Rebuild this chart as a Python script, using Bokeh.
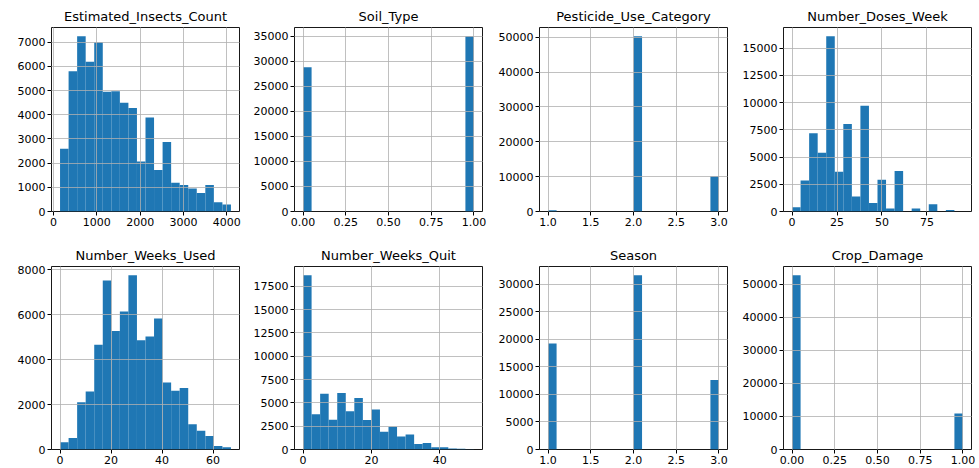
import numpy as np
from bokeh.plotting import figure
from bokeh.layouts import gridplot
from bokeh.models import Range1d, FixedTicker, GlobalInlineStyleSheet
from bokeh.embed import file_html
from bokeh.resources import INLINE

# ---------------- data (20-bin histograms) ----------------
titles = ["Estimated_Insects_Count", "Soil_Type", "Pesticide_Use_Category", "Number_Doses_Week",
          "Number_Weeks_Used", "Number_Weeks_Quit", "Season", "Crop_Damage"]

insects_range = [150, 4097]
insects_counts = [2600, 5800, 7250, 6200, 7000, 4950, 4980, 4500, 4280, 2070,
                  3890, 1720, 2880, 1190, 1100, 950, 770, 1100, 380, 290]

soil_range = [0, 1]
soil_counts = [28800, 0, 0, 0, 0, 0, 0, 0, 0, 0,
               0, 0, 0, 0, 0, 0, 0, 0, 0, 35000]

pest_range = [1, 3]
pest_counts = [380, 0, 0, 0, 0, 0, 0, 0, 0, 0,
               50300, 0, 0, 0, 0, 0, 0, 0, 0, 10100]

doses_range = [0, 95]
doses_counts = [400, 2850, 7180, 5400, 16100, 3650, 8040, 1380, 9720, 770,
                2910, 280, 3710, 0, 280, 0, 660, 0, 130, 10]

used_range = [0, 67]
used_counts = [325, 515, 2100, 2580, 4660, 7510, 5270, 6140, 7750, 4860,
               5030, 5830, 2980, 2610, 2730, 1120, 830, 605, 160, 100]

quit_range = [0, 50]
quit_counts = [18680, 3770, 5980, 3200, 6050, 4090, 5510, 3170, 4300, 1890,
               2450, 1390, 1600, 600, 710, 250, 250, 100, 70, 20]

season_range = [1, 3]
season_counts = [19250, 0, 0, 0, 0, 0, 0, 0, 0, 0,
                 31650, 0, 0, 0, 0, 0, 0, 0, 0, 12610]

crop_range = [0, 1]
crop_counts = [52700, 0, 0, 0, 0, 0, 0, 0, 0, 0,
               0, 0, 0, 0, 0, 0, 0, 0, 0, 10850]

# tick values / labels
insects_xticks = [0, 1000, 2000, 3000, 4000]
insects_xlabels = ["0", "1000", "2000", "3000", "4000"]
insects_yticks = [0, 1000, 2000, 3000, 4000, 5000, 6000, 7000]

unit_xticks = [0, 0.25, 0.5, 0.75, 1.0]
unit_xlabels = ["0.00", "0.25", "0.50", "0.75", "1.00"]
soil_yticks = [0, 5000, 10000, 15000, 20000, 25000, 30000, 35000]

cat_xticks = [1.0, 1.5, 2.0, 2.5, 3.0]
cat_xlabels = ["1.0", "1.5", "2.0", "2.5", "3.0"]
pest_yticks = [0, 10000, 20000, 30000, 40000, 50000]

doses_xticks = [0, 25, 50, 75]
doses_xlabels = ["0", "25", "50", "75"]
doses_yticks = [0, 2500, 5000, 7500, 10000, 12500, 15000]

used_xticks = [0, 20, 40, 60]
used_xlabels = ["0", "20", "40", "60"]
used_yticks = [0, 2000, 4000, 6000, 8000]

quit_xticks = [0, 20, 40]
quit_xlabels = ["0", "20", "40"]
quit_yticks = [0, 2500, 5000, 7500, 10000, 12500, 15000, 17500]

season_yticks = [0, 5000, 10000, 15000, 20000, 25000, 30000]
crop_yticks = [0, 10000, 20000, 30000, 40000, 50000]

BAR = "#1f77b4"
FONT = "DejaVu Sans"


def panel(title, rng, counts, xt, xl, yt, width, height, bl, br, bt, bb):
    lo, hi = rng
    edges = np.linspace(lo, hi, len(counts) + 1)
    pad = 0.05 * (hi - lo)
    p = figure(width=width, height=height, output_backend="svg", toolbar_location=None,
               x_range=Range1d(lo - pad, hi + pad), y_range=Range1d(0, max(counts) * 1.05),
               min_border_left=bl, min_border_right=br, min_border_top=bt, min_border_bottom=bb,
               title=title)
    p.quad(left=edges[:-1], right=edges[1:], top=counts, bottom=0,
           fill_color=BAR, line_color=None)
    p.title.align = "center"
    p.title.text_font = FONT
    p.title.text_font_size = "13px"
    p.title.text_font_style = "normal"
    p.title.text_color = "#000000"
    p.title.standoff = 8
    p.xaxis.ticker = FixedTicker(ticks=xt)
    p.xaxis.major_label_overrides = {v: s for v, s in zip(xt, xl)}
    p.yaxis.ticker = FixedTicker(ticks=yt)
    p.yaxis.major_label_overrides = {v: str(v) for v in yt}
    for ax in (p.xaxis[0], p.yaxis[0]):
        ax.axis_line_color = None
        ax.major_tick_out = 4
        ax.major_tick_in = 0
        ax.minor_tick_line_color = None
        ax.major_tick_line_color = "#000000"
        ax.major_label_text_font = FONT
        ax.major_label_text_font_size = "11px"
        ax.major_label_text_color = "#000000"
        ax.major_label_standoff = 2
    p.grid.grid_line_color = "#b0b0b0"
    p.grid.grid_line_width = 0.8
    p.grid.level = "overlay"
    p.outline_line_color = "#000000"
    p.outline_line_width = 1
    p.outline_line_alpha = 0.9
    p.background_fill_color = "white"
    p.border_fill_color = "white"
    return p


# column geometry: (width, left border, right border)
cols = [(249, 51, 10), (243, 45, 10), (245, 47, 10), (242, 46, 8)]
row1 = (231, 27, 20)   # height, top, bottom
row2 = (237, 35, 19)

specs1 = [
    (titles[0], insects_range, insects_counts, insects_xticks, insects_xlabels, insects_yticks),
    (titles[1], soil_range, soil_counts, unit_xticks, unit_xlabels, soil_yticks),
    (titles[2], pest_range, pest_counts, cat_xticks, cat_xlabels, pest_yticks),
    (titles[3], doses_range, doses_counts, doses_xticks, doses_xlabels, doses_yticks),
]
specs2 = [
    (titles[4], used_range, used_counts, used_xticks, used_xlabels, used_yticks),
    (titles[5], quit_range, quit_counts, quit_xticks, quit_xlabels, quit_yticks),
    (titles[6], season_range, season_counts, cat_xticks, cat_xlabels, season_yticks),
    (titles[7], crop_range, crop_counts, unit_xticks, unit_xlabels, crop_yticks),
]

r1 = [panel(*s, c[0], row1[0], c[1], c[2], row1[1], row1[2]) for s, c in zip(specs1, cols)]
r2 = [panel(*s, c[0], row2[0], c[1], c[2], row2[1], row2[2]) for s, c in zip(specs2, cols)]

grid = gridplot([r1, r2], toolbar_location=None)
grid.stylesheets = [GlobalInlineStyleSheet(css="html, body { overflow: hidden; }")]

open("out.html", "w").write(file_html(grid, INLINE))
